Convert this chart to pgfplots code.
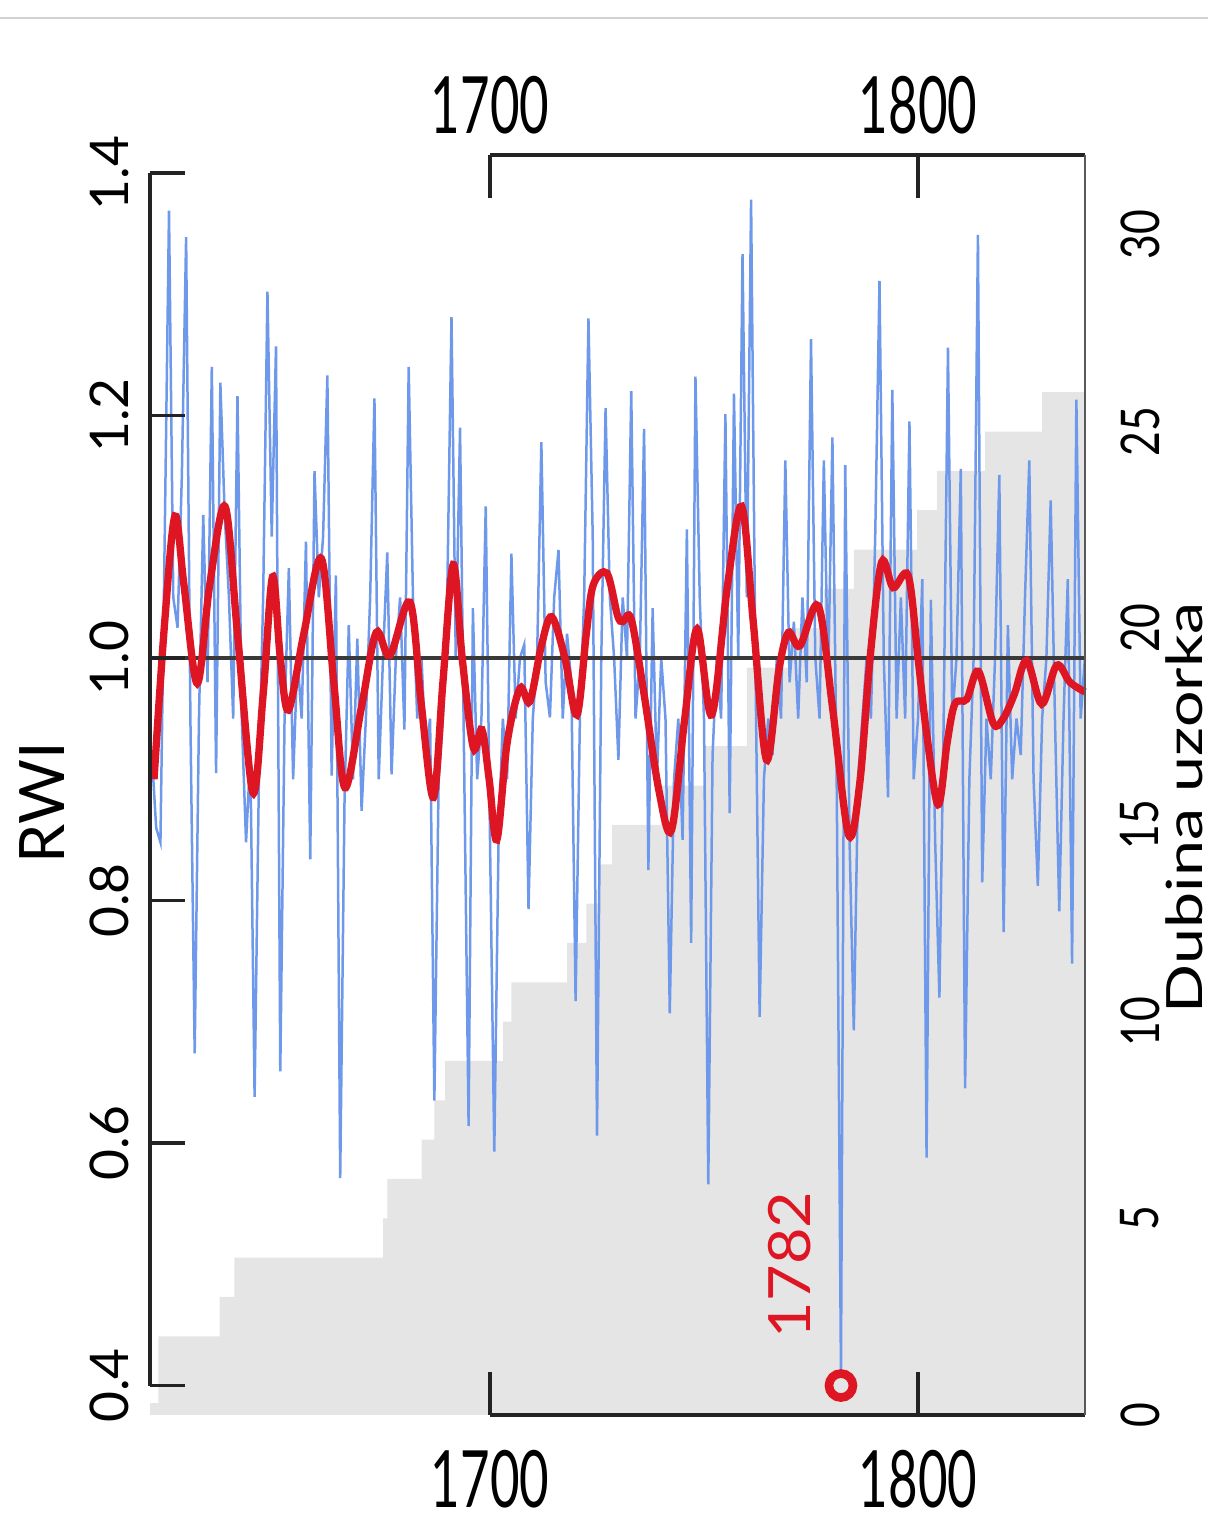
\documentclass[border=0pt]{standalone}
\usepackage{pgfplots}
\pgfplotsset{compat=1.18}
\usepackage{fontspec}
\setmainfont{Lato}
\usepackage{graphicx}
\definecolor{blueline}{RGB}{110,153,235}
\definecolor{redline}{RGB}{222,22,36}
\definecolor{grayfill}{RGB}{229,229,229}
\definecolor{axisblack}{RGB}{35,35,35}
\newcommand{\yr}[1]{\scalebox{1}[1.55]{\fontsize{15.3pt}{16pt}\selectfont #1}}
\newcommand{\lt}[1]{{\fontsize{16pt}{18pt}\selectfont #1}}
\newcommand{\rt}[1]{\scalebox{0.8}[1]{\fontsize{16pt}{18pt}\selectfont #1}}
\begin{document}
\begin{tikzpicture}
\path[use as bounding box] (0,0) rectangle (362.4pt,457.8pt);
\draw[gray!35, line width=0.6pt] (0,452.4pt) -- (362.4pt,452.4pt);
% sample depth axis
\begin{axis}[
  at={(45pt,33.3pt)}, anchor=south west, scale only axis,
  width=280.5pt, height=378pt,
  xmin=1620.56, xmax=1839.02, ymin=0, ymax=32.03,
  axis line style={draw=none}, major tick length=0pt,
  xtick={1700,1800}, xticklabels={\yr{1700},\yr{1800}},
  xticklabel pos=upper,
  xticklabel style={anchor=south, inner sep=0pt},
  xticklabel shift=6pt,
  ytick={0,5,10,15,20,25,30},
  yticklabels={\rt{0},\rt{5},\rt{10},\rt{15},\rt{20},\rt{25},\rt{30}},
  yticklabel pos=right,
  yticklabel style={rotate=90, anchor=north, inner sep=0pt},
  yticklabel shift=10.5pt,
  clip=false,
]
\addplot[const plot, fill=grayfill, draw=none] coordinates {
(1620.56,0.3) (1622.5,2) (1636.8,3) (1640.3,4) (1675,5) (1676,6) (1684,7) (1687,8)
(1689.5,9) (1703,10) (1705,11) (1718,12) (1722.5,13) (1725.5,14) (1728.5,15)
(1740,16) (1750,17) (1760,19) (1770,20) (1778,21) (1785,22) (1799.8,23)
(1804.4,24) (1815.7,25) (1829,26) (1839.02,26)} \closedcycle;
\end{axis}
% RWI axis
\begin{axis}[
  at={(45pt,33.3pt)}, anchor=south west, scale only axis,
  width=280.5pt, height=378pt,
  xmin=1620.56, xmax=1839.02, ymin=0.3757, ymax=1.4148,
  axis line style={draw=none}, major tick length=0pt,
  xtick={1700,1800}, xticklabels={\yr{1700},\yr{1800}},
  xticklabel pos=lower,
  xticklabel style={anchor=north, inner sep=0pt},
  xticklabel shift=10.5pt,
  ytick={0.4,0.6,0.8,1.0,1.2,1.4},
  yticklabels={\lt{0.4},\lt{0.6},\lt{0.8},\lt{1.0},\lt{1.2},\lt{1.4}},
  yticklabel pos=left,
  yticklabel style={rotate=90, anchor=south, inner sep=0pt},
  yticklabel shift=6pt,
  clip=false,
]
\addplot[blueline, line width=0.75pt] coordinates {
(1621,0.92) (1622,0.86) (1623,0.848) (1624,1.10) (1625,1.369) (1626,1.05) (1627,1.025) (1628,1.15) (1629,1.347) (1630,0.95)
(1631,0.674) (1632,0.95) (1633,1.118) (1634,0.98) (1635,1.240) (1636,0.905) (1637,1.227) (1638,1.12) (1639,1.05) (1640,0.95)
(1641,1.216) (1642,0.95) (1643,0.848) (1644,0.92) (1645,0.638) (1646,0.90) (1647,1.05) (1648,1.302) (1649,1.10) (1650,1.257)
(1651,0.659) (1652,0.95) (1653,1.074) (1654,0.90) (1655,1.0) (1656,0.95) (1657,1.096) (1658,0.834) (1659,1.154) (1660,1.05)
(1661,1.10) (1662,1.233) (1663,0.903) (1664,1.068) (1665,0.571) (1666,0.88) (1667,1.027) (1668,0.90) (1669,1.016) (1670,0.874)
(1671,0.95) (1672,1.05) (1673,1.214) (1674,0.90) (1675,1.0) (1676,1.087) (1677,0.904) (1678,1.0) (1679,1.05) (1680,0.941)
(1681,1.240) (1682,1.05) (1683,0.95) (1684,1.0) (1685,0.92) (1686,0.95) (1687,0.635) (1688,0.90) (1689,0.95) (1690,1.05)
(1691,1.281) (1692,1.0) (1693,1.19) (1694,0.90) (1695,0.614) (1696,1.041) (1697,0.90) (1698,0.95) (1699,1.125) (1700,0.85)
(1701,0.593) (1702,0.85) (1703,0.95) (1704,0.90) (1705,1.086) (1706,0.95) (1707,1.0) (1708,1.011) (1709,0.793) (1710,0.95)
(1711,1.0) (1712,1.178) (1713,0.98) (1714,0.951) (1715,1.05) (1716,1.089) (1717,0.95) (1718,1.02) (1719,0.98) (1720,0.717)
(1721,0.95) (1722,1.05) (1723,1.280) (1724,1.10) (1725,0.606) (1726,1.0) (1727,1.206) (1728,1.05) (1729,1.0) (1730,0.916)
(1731,1.05) (1732,1.0) (1733,1.220) (1734,0.95) (1735,1.0) (1736,1.189) (1737,0.825) (1738,1.041) (1739,0.90) (1740,1.0)
(1741,0.95) (1742,0.707) (1743,0.90) (1744,0.95) (1745,0.85) (1746,1.106) (1747,0.765) (1748,1.232) (1749,1.05) (1750,0.95)
(1751,0.566) (1752,0.92) (1753,1.0) (1754,0.95) (1755,1.201) (1756,0.872) (1757,1.218) (1758,1.0) (1759,1.333) (1760,1.05)
(1761,1.378) (1762,1.0) (1763,0.704) (1764,0.90) (1765,0.95) (1766,0.92) (1767,1.0) (1768,0.95) (1769,1.163) (1770,0.98)
(1771,1.03) (1772,0.95) (1773,1.05) (1774,0.98) (1775,1.263) (1776,1.0) (1777,0.95) (1778,1.163) (1779,0.98) (1780,1.182)
(1781,0.90) (1782,0.41) (1783,1.159) (1784,0.85) (1785,0.693) (1786,0.90) (1787,0.95) (1788,1.0) (1789,0.95) (1790,1.10)
(1791,1.311) (1792,1.0) (1793,0.885) (1794,1.221) (1795,0.95) (1796,1.05) (1797,0.95) (1798,1.195) (1799,0.90) (1800,0.95)
(1801,1.065) (1802,0.588) (1803,1.048) (1804,0.85) (1805,0.72) (1806,0.95) (1807,1.256) (1808,0.95) (1809,1.0) (1810,1.156)
(1811,0.645) (1812,0.90) (1813,1.0) (1814,1.349) (1815,0.815) (1816,0.95) (1817,0.90) (1818,1.0) (1819,1.151) (1820,0.774)
(1821,1.027) (1822,0.90) (1823,0.95) (1824,0.92) (1825,1.05) (1826,1.163) (1827,0.90) (1828,0.812) (1829,0.95) (1830,1.0)
(1831,1.130) (1832,0.95) (1833,0.791) (1834,0.95) (1835,1.065) (1836,0.748) (1837,1.213) (1838,0.95) (1839,1.0)};
\addplot[axisblack!90, line width=1.2pt] coordinates {(1620.56,1) (1839.02,1)};
\addplot[redline, line width=2.2pt, smooth, tension=0.55] coordinates {
(1621.5,0.90) (1624.0,1.03) (1626.4,1.117) (1628.5,1.06) (1631.6,0.979) (1634.5,1.06) (1638.1,1.125)
(1641.0,1.02) (1644.6,0.889) (1647.0,0.97) (1649.2,1.067) (1651.0,1.0) (1652.9,0.957) (1656.5,1.02)
(1660.6,1.082) (1663.5,0.98) (1666.1,0.893) (1670.0,0.96) (1673.4,1.021) (1676.6,1.002) (1681.3,1.046)
(1684.0,0.96) (1686.8,0.885) (1689.0,0.98) (1691.4,1.077) (1693.5,1.0) (1696.1,0.926) (1698.1,0.941)
(1699.8,0.90) (1701.6,0.85) (1704.0,0.93) (1707.0,0.975) (1709.3,0.964) (1712.0,1.01) (1714.4,1.034)
(1717.5,1.0) (1720.3,0.953) (1722.5,1.02) (1724.1,1.060) (1727.3,1.070) (1729.8,1.035) (1731.0,1.03)
(1733.0,1.032) (1736.0,0.97) (1739.5,0.89) (1742.4,0.858) (1745.5,0.95) (1748.4,1.024) (1751.8,0.953)
(1755.5,1.06) (1758.8,1.125) (1761.5,1.03) (1764.6,0.916) (1767.5,0.99) (1769.7,1.021) (1772.4,1.010)
(1776.7,1.043) (1780.0,0.96) (1783.8,0.854) (1786.4,0.897) (1788.8,1.0) (1791.5,1.079) (1794.2,1.058)
(1797.7,1.068) (1800.0,1.0) (1802.0,0.938) (1804.7,0.879) (1806.8,0.93) (1808.6,0.962) (1811.4,0.966)
(1814.1,0.989) (1817.6,0.946) (1819.9,0.95) (1822.5,0.97) (1825.4,0.998) (1828.9,0.962) (1832.4,0.994)
(1835.5,0.98) (1839.0,0.972)};
\addplot[only marks, mark=o, mark size=3.6pt, mark options={draw=redline, line width=2.6pt}] coordinates {(1782,0.4)};
% axis lines and ticks
\draw[axisblack, line width=1.1pt] (axis cs:1620.56,0.4) -- (axis cs:1620.56,1.4);
\draw[axisblack, line width=1.1pt] (axis cs:1620.56,0.4) -- (axis cs:1628.74,0.4);
\draw[axisblack, line width=1.1pt] (axis cs:1620.56,0.6) -- (axis cs:1628.74,0.6);
\draw[axisblack, line width=1.1pt] (axis cs:1620.56,0.8) -- (axis cs:1628.74,0.8);
\draw[axisblack, line width=1.1pt] (axis cs:1620.56,1.0) -- (axis cs:1628.74,1.0);
\draw[axisblack, line width=1.1pt] (axis cs:1620.56,1.2) -- (axis cs:1628.74,1.2);
\draw[axisblack, line width=1.1pt] (axis cs:1620.56,1.4) -- (axis cs:1628.74,1.4);
\draw[axisblack, line width=1.1pt] (axis cs:1700,1.4148) -- (axis cs:1839.02,1.4148);
\draw[axisblack, line width=1.1pt] (axis cs:1700,1.4148) -- (axis cs:1700,1.3791);
\draw[axisblack, line width=1.1pt] (axis cs:1800,1.4148) -- (axis cs:1800,1.3791);
\draw[axisblack, line width=1.1pt] (axis cs:1700,0.3757) -- (axis cs:1839.02,0.3757);
\draw[axisblack, line width=1.1pt] (axis cs:1700,0.3757) -- (axis cs:1700,0.4114);
\draw[axisblack, line width=1.1pt] (axis cs:1800,0.3757) -- (axis cs:1800,0.4114);
\draw[gray!70!black, line width=0.6pt] (axis cs:1839.02,0.3757) -- (axis cs:1839.02,1.4148);
\end{axis}
\node[rotate=90, inner sep=0pt, font=\fontsize{18.8pt}{20pt}\selectfont] at (12.6pt,216.9pt) {RWI};
\node[rotate=90, inner sep=0pt] at (355.2pt,215.4pt) {\scalebox{1.29}[1]{\fontsize{15pt}{17pt}\selectfont Dubina uzorka}};
\node[rotate=90, inner sep=0pt, text=redline] at (237pt,78.3pt) {\scalebox{1.08}[1]{\fontsize{17.5pt}{19pt}\selectfont 1782}};
\end{tikzpicture}
\end{document}
